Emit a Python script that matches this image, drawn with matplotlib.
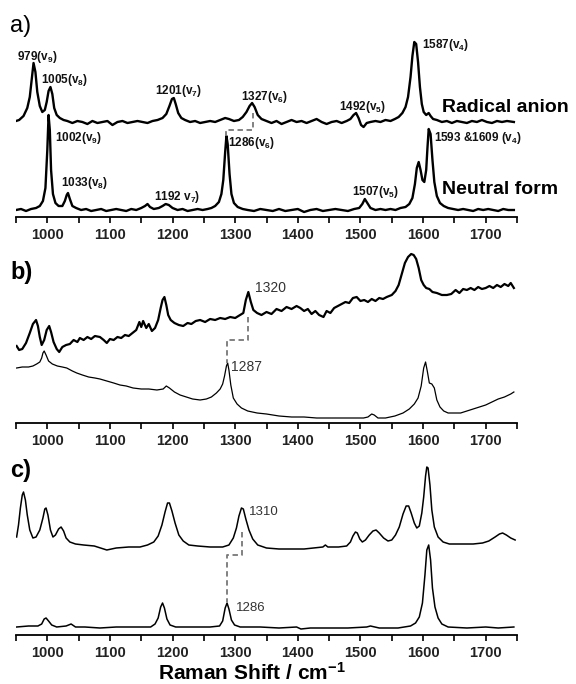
import matplotlib
matplotlib.use("Agg")
import matplotlib.pyplot as plt

plt.rcParams["font.family"] = ["Liberation Sans", "DejaVu Sans"]
plt.rcParams["mathtext.fontset"] = "custom"
plt.rcParams["mathtext.rm"] = "Liberation Sans"
plt.rcParams["mathtext.bf"] = "Liberation Sans:bold"
plt.rcParams["mathtext.it"] = "Liberation Sans:italic"

# ---- data (Raman shift in cm-1, intensity in arbitrary units) ----
# a) radical anion
a_anion_x = [950, 955, 962, 968, 972, 975, 978, 981, 984, 988, 992, 996, 999, 1002, 1005, 1008, 1011, 1015,
             1020, 1026, 1032, 1040, 1048, 1056, 1064, 1072, 1080, 1088, 1096, 1104, 1112, 1120, 1128, 1136,
             1144, 1152, 1160, 1168, 1176, 1184, 1190, 1195, 1199, 1202, 1205, 1209, 1214, 1220, 1228, 1236,
             1244, 1252, 1260, 1268, 1276, 1284, 1290, 1298, 1306, 1312, 1318, 1323, 1327, 1331, 1336, 1342,
             1350, 1358, 1366, 1374, 1382, 1390, 1398, 1406, 1414, 1422, 1430, 1438, 1446, 1454, 1462, 1470,
             1478, 1484, 1489, 1493, 1497, 1501, 1505, 1510, 1516, 1524, 1532, 1540, 1548, 1555, 1561, 1567,
             1572, 1576, 1580, 1583, 1586, 1589, 1592, 1595, 1598, 1601, 1605, 1609, 1612, 1616, 1622, 1630,
             1638, 1646, 1654, 1662, 1670, 1678, 1686, 1694, 1702, 1710, 1718, 1726, 1734, 1745]
a_anion_y = [1, 2, 6, 14, 25, 42, 59, 50, 30, 16, 10, 12, 20, 31, 35, 28, 14, 7,
             4, 2, 1, -1, 1, 0, -2, 1, -1, 0, 1, -3, 0, 1, -1, 0,
             1, 0, -1, 1, 2, 4, 8, 16, 23, 24, 18, 9, 4, 2, 0, 1,
             -1, 0, 1, 0, 2, 4, 3, 1, 2, 5, 10, 16, 19, 15, 7, 3,
             1, -1, 1, -2, 0, 2, 0, 1, -1, 1, 3, 0, -2, 0, 1, -1,
             1, 3, 7, 9, 4, -3, -5, -1, 0, 1, 0, 2, 1, 3, 5, 9,
             15, 25, 45, 66, 80, 78, 60, 35, 18, 10, 7, 9, 6, 3, 2, 0,
             1, -1, 1, 0, -1, 1, 0, 2, 0, -1, 1, 0, 1, 0]

# a) neutral form
a_neutral_x = [950, 958, 966, 974, 982, 988, 993, 997, 1000, 1002, 1004, 1006, 1009, 1013, 1018, 1024, 1028,
               1031, 1033, 1036, 1040, 1046, 1054, 1062, 1070, 1078, 1086, 1094, 1102, 1110, 1118, 1126, 1134,
               1142, 1150, 1156, 1160, 1164, 1170, 1178, 1184, 1189, 1194, 1200, 1208, 1216, 1224, 1232, 1240,
               1248, 1256, 1262, 1268, 1274, 1278, 1281, 1284, 1286, 1288, 1291, 1294, 1298, 1304, 1312, 1320,
               1330, 1340, 1350, 1360, 1370, 1380, 1390, 1400, 1410, 1420, 1430, 1440, 1450, 1460, 1470, 1480,
               1490, 1498, 1503, 1507, 1511, 1516, 1524, 1532, 1540, 1548, 1556, 1564, 1572, 1578, 1583, 1587,
               1590, 1593, 1596, 1599, 1602, 1605, 1607, 1609, 1612, 1615, 1618, 1622, 1627, 1633, 1640, 1648,
               1656, 1664, 1672, 1680, 1688, 1696, 1704, 1712, 1720, 1728, 1736, 1745]
a_neutral_y = [0, 1, -1, 1, 2, 4, 9, 22, 60, 95, 80, 40, 16, 7, 4, 4, 9,
               15, 17, 11, 4, 2, 0, 1, -1, 0, 1, -1, 0, 1, 0, -1, 1,
               0, 2, 4, 6, 3, 1, 2, 4, 6, 5, 2, 0, 1, -1, 0, 1,
               0, 1, 2, 4, 8, 16, 30, 58, 74, 66, 36, 16, 7, 3, 1, 0,
               -1, 1, 0, -1, 1, -1, 0, 1, -2, 0, 1, -1, 0, 1, 0, -1,
               1, 2, 6, 11, 7, 2, 0, 1, 0, 1, 0, 2, 3, 6, 12, 26,
               42, 48, 40, 30, 28, 40, 62, 81, 76, 50, 28, 14, 7, 4, 2, 1,
               0, 1, 0, -1, 1, 0, 1, 0, -1, 1, 0, 0]

# b) upper trace
b_upper_x = [951, 955, 960, 966, 972, 977, 982, 985, 988, 991, 995, 999, 1003, 1006, 1010, 1015, 1019, 1024,
             1030, 1036, 1042, 1048, 1052, 1058, 1064, 1070, 1076, 1084, 1090, 1095, 1100, 1106, 1112, 1118,
             1124, 1130, 1136, 1142, 1147, 1150, 1153, 1158, 1162, 1167, 1172, 1177, 1181, 1184, 1187, 1190,
             1193, 1197, 1203, 1210, 1217, 1224, 1230, 1237, 1244, 1252, 1260, 1268, 1276, 1284, 1292, 1300,
             1308, 1313, 1317, 1321, 1325, 1329, 1335, 1342, 1350, 1358, 1366, 1374, 1382, 1390, 1398, 1404,
             1410, 1416, 1422, 1428, 1434, 1441, 1446, 1452, 1458, 1464, 1470, 1476, 1482, 1488, 1494, 1500,
             1506, 1512, 1518, 1524, 1530, 1536, 1542, 1550, 1556, 1561, 1566, 1571, 1576, 1581, 1585, 1589,
             1593, 1597, 1601, 1605, 1610, 1615, 1622, 1630, 1638, 1645, 1652, 1658, 1664, 1670, 1676, 1682,
             1688, 1694, 1700, 1706, 1712, 1718, 1724, 1730, 1736, 1740, 1745]
b_upper_y = [7, 3, 4, 10, 20, 29, 33, 27, 16, 8, 13, 23, 27, 21, 11, 4, 1, 6,
             8, 9, 13, 11, 15, 13, 16, 14, 17, 16, 13, 10, 14, 13, 16, 15,
             18, 17, 20, 23, 31, 26, 32, 25, 29, 22, 25, 33, 45, 53, 56, 48,
             38, 33, 30, 28, 27, 30, 29, 32, 33, 31, 34, 33, 35, 34, 36, 35,
             38, 40, 53, 61, 51, 43, 40, 38, 41, 39, 44, 42, 46, 44, 47, 45,
             42, 44, 39, 42, 38, 36, 42, 40, 45, 47, 49, 51, 50, 55, 56, 52,
             53, 51, 54, 52, 55, 54, 56, 58, 62, 68, 79, 90, 96, 99, 98, 94,
             85, 73, 68, 65, 64, 61, 60, 58, 58, 59, 63, 60, 64, 63, 65, 63,
             66, 64, 65, 67, 65, 68, 66, 69, 67, 70, 65]

# b) lower trace
b_lower_x = [951, 960, 970, 977, 983, 988, 991, 993, 995, 998, 1002, 1008, 1016, 1024, 1031, 1040, 1047, 1056,
             1066, 1076, 1084, 1095, 1106, 1116, 1126, 1137, 1150, 1162, 1175, 1185, 1190, 1195, 1203, 1212,
             1222, 1232, 1244, 1254, 1262, 1270, 1276, 1280, 1283, 1286, 1288, 1290, 1293, 1297, 1303, 1310,
             1320, 1335, 1350, 1370, 1390, 1410, 1430, 1450, 1470, 1490, 1505, 1512, 1518, 1522, 1528, 1540,
             1555, 1568, 1578, 1586, 1592, 1597, 1601, 1604, 1607, 1610, 1614, 1618, 1622, 1627, 1633, 1640,
             1650, 1660, 1670, 1680, 1690, 1700, 1710, 1720, 1730, 1740, 1745]
b_lower_y = [55, 56, 56, 57, 59, 61, 65, 70, 72, 68, 62, 59, 57, 56, 55, 52, 50, 48,
             46, 45, 44, 42, 40, 38, 37, 35, 34, 34, 33, 34, 37, 35, 31, 28,
             26, 24, 23, 24, 26, 30, 34, 39, 47, 57, 60, 53, 38, 25, 19, 15,
             12, 10, 9, 7, 6, 6, 5, 5, 5, 5, 5, 6, 9, 8, 5, 5,
             7, 10, 14, 19, 25, 37, 55, 61, 51, 40, 39, 35, 23, 16, 12, 10,
             10, 10, 12, 14, 16, 18, 21, 24, 26, 29, 31]

# c) upper trace
c_upper_x = [951, 954, 957, 960, 962, 965, 968, 972, 977, 982, 988, 993, 996, 998, 1001, 1005, 1009, 1013,
             1018, 1022, 1026, 1030, 1036, 1045, 1058, 1075, 1095, 1110, 1130, 1148, 1160, 1170, 1177, 1183,
             1188, 1192, 1195, 1199, 1204, 1210, 1217, 1226, 1240, 1260, 1280, 1290, 1297, 1302, 1306, 1310,
             1313, 1317, 1322, 1328, 1336, 1350, 1370, 1390, 1410, 1425, 1440, 1444, 1448, 1465, 1478, 1484,
             1488, 1492, 1495, 1499, 1503, 1508, 1514, 1520, 1525, 1530, 1537, 1544, 1550, 1556, 1562, 1568,
             1573, 1577, 1581, 1586, 1590, 1594, 1598, 1601, 1604, 1606, 1608, 1611, 1614, 1618, 1624, 1632,
             1642, 1660, 1680, 1695, 1705, 1715, 1722, 1727, 1733, 1740, 1747]
c_upper_y = [10, 22, 39, 52, 55, 47, 32, 17, 9, 10, 17, 29, 38, 39, 32, 17, 10, 12,
             18, 20, 16, 9, 5, 3, 2, 1, -3, -1, 0, 0, 2, 5, 11, 22,
             35, 44, 44, 36, 24, 12, 6, 2, 1, 0, 0, 2, 9, 19, 31, 39,
             38, 28, 17, 8, 2, -1, -2, -2, -2, -1, 0, 2, 0, 0, 1, 5,
             11, 15, 14, 8, 5, 7, 12, 16, 17, 14, 9, 6, 7, 12, 20, 33,
             41, 41, 34, 24, 19, 21, 34, 50, 71, 80, 79, 62, 37, 20, 10, 5,
             3, 3, 3, 4, 6, 10, 13, 14, 12, 9, 7]

# c) lower trace
c_lower_x = [951, 970, 985, 991, 995, 998, 1002, 1007, 1015, 1030, 1038, 1045, 1060, 1084, 1110, 1140, 1165,
             1172, 1177, 1181, 1184, 1187, 1191, 1196, 1205, 1230, 1260, 1275, 1280, 1284, 1287, 1290, 1294,
             1299, 1308, 1340, 1370, 1398, 1405, 1420, 1450, 1480, 1510, 1516, 1530, 1560, 1580, 1588, 1594,
             1599, 1603, 1606, 1609, 1612, 1615, 1619, 1624, 1630, 1640, 1670, 1700, 1720, 1745]
c_lower_y = [0, 1, 1, 3, 8, 9, 6, 2, 0, 1, 3, 0, 0, -1, 0, 0, 0,
             3, 9, 20, 24, 19, 8, 2, 0, 0, 0, 1, 6, 19, 24, 18, 7,
             2, 0, 0, -1, 0, -2, -1, -1, -1, 0, 1, -1, -1, 1, 4, 10,
             24, 52, 77, 82, 67, 39, 20, 9, 3, 0, -1, 0, -1, 0]

major_ticks = [1000, 1100, 1200, 1300, 1400, 1500, 1600, 1700]
minor_ticks = [950, 1050, 1150, 1250, 1350, 1450, 1550, 1650, 1750]

# ---- figure ----
fig = plt.figure(figsize=(5.76, 6.84), dpi=100)
W, H = 576.0, 684.0


def make_axes(top_px, bottom_px):
    ax = fig.add_axes([16 / W, 1 - bottom_px / H, 501 / W, (bottom_px - top_px) / H])
    ax.set_xlim(950, 1750)
    ax.set_ylim(0, bottom_px - top_px)
    for side in ["left", "right", "top"]:
        ax.spines[side].set_visible(False)
    ax.spines["bottom"].set_linewidth(1.3)
    ax.set_yticks([])
    ax.set_xticks(major_ticks)
    ax.set_xticks(minor_ticks, minor=True)
    ax.tick_params(axis="x", which="both", direction="out", length=4, width=1.2, pad=4)
    for lab in ax.get_xticklabels():
        lab.set_fontweight("bold")
        lab.set_fontsize(10.5)
        lab.set_color("#222222")
    ax.patch.set_alpha(0)
    return ax


def link(ax, x_from, x_to, y_top, y_mid, y_bot):
    ax.plot([x_from, x_from, x_to, x_to], [y_top, y_mid, y_mid, y_bot],
            color="#777777", ls="--", lw=1.3, dashes=(3, 2))


ax_a = make_axes(5, 217)
ax_b = make_axes(240, 423)
ax_c = make_axes(445, 635)

# a)
ax_a.plot(a_anion_x, [v + 95 for v in a_anion_y], color="black", lw=1.7)
ax_a.plot(a_neutral_x, [v + 7 for v in a_neutral_y], color="black", lw=1.7)
link(ax_a, 1328, 1285.5, 104, 87.5, 81)

lab_kw = dict(fontsize=8.5, fontweight="bold", ha="left", va="center", color="#111111")
ax_a.text(951, 160, r"979(v$_\mathbf{9}$)", **lab_kw)
ax_a.text(990, 137, r"1005(v$_\mathbf{8}$)", **lab_kw)
ax_a.text(1172, 126, r"1201(v$_\mathbf{7}$)", **lab_kw)
ax_a.text(1309, 120, r"1327(v$_\mathbf{6}$)", **lab_kw)
ax_a.text(1466, 110, r"1492(v$_\mathbf{5}$)", **lab_kw)
ax_a.text(1598, 172, r"1587(v$_\mathbf{4}$)", **lab_kw)
ax_a.text(1012, 79, r"1002(v$_\mathbf{9}$)", **lab_kw)
ax_a.text(1022, 34, r"1033(v$_\mathbf{8}$)", **lab_kw)
ax_a.text(1170, 20, r"1192 v$_\mathbf{7}$)", **lab_kw)
ax_a.text(1288, 74, r"1286(v$_\mathbf{6}$)", **lab_kw)
ax_a.text(1486, 25, r"1507(v$_\mathbf{5}$)", **lab_kw)
ax_a.text(1618, 79, r"1593 &1609 (v$_\mathbf{4}$)", **lab_kw)
ax_a.text(1630, 110, "Radical anion", fontsize=14, fontweight="bold", ha="left", va="center")
ax_a.text(1631, 28, "Neutral form", fontsize=14, fontweight="bold", ha="left", va="center")

# b)
ax_b.plot(b_upper_x, [v + 70 for v in b_upper_y], color="black", lw=1.6)
ax_b.plot(b_lower_x, b_lower_y, color="black", lw=0.9)
link(ax_b, 1321, 1286.5, 106, 83, 60)
ax_b.text(1332, 135, "1320", fontsize=10, ha="left", va="center", color="#333333")
ax_b.text(1294, 56, "1287", fontsize=10, ha="left", va="center", color="#333333")

# c)
ax_c.plot(c_upper_x, [v + 88 for v in c_upper_y], color="black", lw=1.1)
ax_c.plot(c_lower_x, [v + 8 for v in c_lower_y], color="black", lw=1.1)
link(ax_c, 1311.5, 1286.5, 103, 80, 33)
ax_c.text(1322, 123, "1310", fontsize=9.5, ha="left", va="center", color="#333333")
ax_c.text(1301, 27, "1286", fontsize=9.5, ha="left", va="center", color="#333333")

# panel letters and axis title
fig.text(10 / W, 1 - 26 / H, "a)", fontsize=17, ha="left", va="center")
fig.text(10 / W, 1 - 272 / H, "b)", fontsize=17, fontweight="bold", ha="left", va="center")
fig.text(10 / W, 1 - 470 / H, "c)", fontsize=17, fontweight="bold", ha="left", va="center")
fig.text(252 / W, 1 - 673 / H, r"Raman Shift / cm$^\mathbf{-1}$", fontsize=15,
         fontweight="bold", ha="center", va="center")

fig.savefig("out.png", dpi=100)
